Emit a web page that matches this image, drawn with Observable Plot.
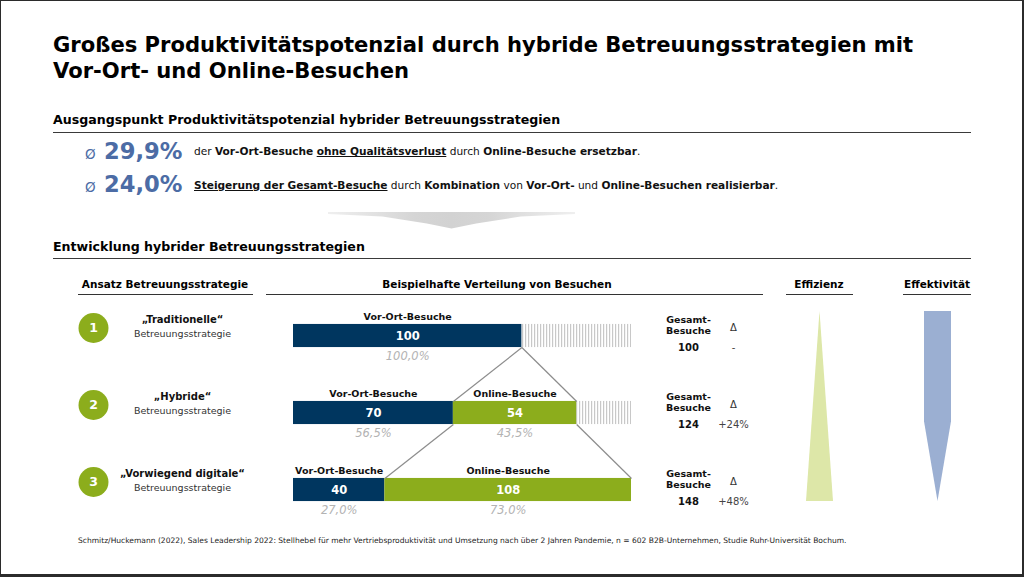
<!DOCTYPE html>
<html><head><meta charset="utf-8">
<script src="https://cdn.jsdelivr.net/npm/d3@7"></script>
<script src="https://cdn.jsdelivr.net/npm/@observablehq/plot@0.6"></script>
<style>
body{margin:0;background:#fff;}
#slide{position:relative;width:1024px;height:577px;overflow:hidden;font-family:"DejaVu Sans",Verdana,sans-serif;color:#111;background:#fff;}
.t{position:absolute;white-space:nowrap;line-height:normal;}
.rule{position:absolute;height:0;}
#frame{position:absolute;left:0;top:0;width:1024px;height:577px;box-sizing:border-box;border:solid #2b2b2b;border-width:1px 2px 3px 1px;pointer-events:none;}
.abs{position:absolute;}
</style></head><body><div id="slide"></div>
<script>
// ---------- data ----------
const titleLines = ["Großes Produktivitätspotenzial durch hybride Betreuungsstrategien mit", "Vor-Ort- und Online-Besuchen"];
const sectionTitles = ["Ausgangspunkt Produktivitätspotenzial hybrider Betreuungsstrategien", "Entwicklung hybrider Betreuungsstrategien"];
const statSymbol = "Ø";
const statValues = ["29,9%", "24,0%"];
const statTexts = [
  "der <b>Vor-Ort-Besuche</b> <b><u>ohne Qualitätsverlust</u></b> durch <b>Online-Besuche ersetzbar</b>.",
  "<b><u>Steigerung der Gesamt-Besuche</u></b> durch <b>Kombination</b> von <b>Vor-Ort-</b> und <b>Online-Besuchen realisierbar</b>."
];
const columnHeaders = ["Ansatz Betreuungsstrategie", "Beispielhafte Verteilung von Besuchen", "Effizienz", "Effektivität"];
const strategyNames = ["„Traditionelle“", "„Hybride“", "„Vorwiegend digitale“"];
const strategySub = "Betreuungsstrategie";
const segmentLabels = ["Vor-Ort-Besuche", "Online-Besuche"];
const vorOrtVisits = [100, 70, 40];
const onlineVisits = [0, 54, 108];
const vorOrtShares = ["100,0%", "56,5%", "27,0%"];
const onlineShares = ["", "43,5%", "73,0%"];
const totalVisits = [100, 124, 148];
const totalLabel = ["Gesamt-", "Besuche"];
const deltaLabels = ["-", "+24%", "+48%"];
const efficiencyShape = [{level: 0, w: 0}, {level: 1, w: 1}];
const effectivenessShape = [{level: 0, w: 1}, {level: 0.58, w: 1}, {level: 1, w: 0}];
const footnote = "Schmitz/Huckemann (2022), Sales Leadership 2022: Stellhebel für mehr Vertriebsproduktivität und Umsetzung nach über 2 Jahren Pandemie, n = 602 B2B-Unternehmen, Studie Ruhr-Universität Bochum.";

const NAVY = "#00365f", GREEN = "#8cad1c", BLUE = "#4c6ca5";

// ---------- html helpers ----------
const slide = document.getElementById("slide");
function txt(html, x, base, fs, o = {}) {
  const d = document.createElement("div");
  d.className = "t"; d.innerHTML = html;
  d.style.fontSize = fs + "px";
  d.style.top = (base - 0.928 * fs) + "px";
  d.style.left = x + "px";
  if (o.center) d.style.transform = "translateX(-50%)";
  if (o.bold) d.style.fontWeight = "bold";
  if (o.color) d.style.color = o.color;
  slide.appendChild(d); return d;
}
function rule(x1, x2, y, w = 1.5, c = "#333") {
  const d = document.createElement("div");
  d.className = "rule";
  Object.assign(d.style, {left: x1 + "px", width: (x2 - x1) + "px", top: (y - w / 2) + "px", borderTop: w + "px solid " + c});
  slide.appendChild(d);
}

// title
txt(titleLines[0], 53, 52, 21.1, {bold: true, color: "#000"});
txt(titleLines[1], 53, 77.5, 21.1, {bold: true, color: "#000"});
// section 1
txt(sectionTitles[0], 53, 124, 12.6, {bold: true, color: "#000"});
rule(53, 971, 133, 1.6, "#3a3a3a");
const statBase = [159, 192], textBase = [155, 188.5];
statValues.forEach((v, i) => {
  txt(statSymbol, 85, statBase[i] - 0.5, 13.5, {color: BLUE});
  txt(v, 104, statBase[i], 22.6, {bold: true, color: BLUE});
  txt(statTexts[i], 194, textBase[i], 10.6, {color: "#111"});
});
// chevron
const chev = document.createElement("div");
chev.className = "abs";
Object.assign(chev.style, {left: "328px", top: "212px", width: "247px", height: "16.5px",
  background: "linear-gradient(to right,#efefef,#d5d5d5 35%,#d2d2d2 50%,#d5d5d5 65%,#efefef)",
  clipPath: "polygon(0 0,100% 0,100% 12%,78% 28%,60% 69%,50% 100%,40% 69%,22% 28%,0 12%)"});
slide.appendChild(chev);
// section 2
txt(sectionTitles[1], 53, 251, 12.6, {bold: true, color: "#000"});
rule(53, 971, 259, 1.6, "#3a3a3a");
const headerCenters = [165, 497, 819, 937];
const headerRules = [[78, 253], [266, 763], [786, 853], [903, 971]];
columnHeaders.forEach((h, i) => {
  txt(h, headerCenters[i], 288, 10.5, {bold: true, center: true, color: "#000"});
  rule(headerRules[i][0], headerRules[i][1], 295, 1.4, "#333");
});
// footnote
txt(footnote, 78, 543, 7.55, {color: "#222"});

// ---------- main chart (Plot) ----------
const rows = strategyNames.map((name, i) => ({
  i, no: i + 1, name, vo: vorOrtVisits[i], on: onlineVisits[i], total: totalVisits[i],
  voShare: vorOrtShares[i], onShare: onlineShares[i], delta: deltaLabels[i]
}));
const maxT = d3.max(rows, d => d.total);
const h = 0.15;
const links = [];
for (let k = 0; k < rows.length - 1; k++) {
  const a = rows[k], b = rows[k + 1];
  links.push({x1: a.vo, x2: b.vo, y1: a.i + h, y2: b.i - h});
  links.push({x1: a.total, x2: b.total, y1: a.i + h, y2: b.i - h});
}
const withOnline = rows.filter(d => d.on > 0);
const F = "DejaVu Sans";
const chart = Plot.plot({
  width: 1024, height: 235, margin: 0,
  x: {type: "linear", domain: [0, maxT], range: [293, 631], axis: null},
  y: {type: "linear", domain: [0, rows.length - 1], range: [45.5, 199.5], axis: null},
  style: {fontFamily: F, background: "transparent", overflow: "visible"},
  marks: [
    Plot.rect(rows.filter(d => d.total < maxT), {x1: "total", x2: () => maxT, y1: d => d.i - h, y2: d => d.i + h, fill: "url(#hatch)"}),
    Plot.rect(rows, {x1: () => 0, x2: "vo", y1: d => d.i - h, y2: d => d.i + h, fill: NAVY}),
    Plot.rect(withOnline, {x1: "vo", x2: "total", y1: d => d.i - h, y2: d => d.i + h, fill: GREEN}),
    Plot.link(links, {x1: "x1", x2: "x2", y1: "y1", y2: "y2", stroke: "#8c8c8c", strokeWidth: 1.2}),
    // segment labels
    Plot.text(rows, {x: d => d.vo / 2, y: "i", text: () => segmentLabels[0], dy: -19.5, fontWeight: "bold", fontSize: 9.5, fill: "#111"}),
    Plot.text(withOnline, {x: d => d.vo + d.on / 2, y: "i", text: () => segmentLabels[1], dy: -19.5, fontWeight: "bold", fontSize: 9.5, fill: "#111"}),
    // values
    Plot.text(rows, {x: d => d.vo / 2, y: "i", text: d => String(d.vo), dy: 0.5, fontWeight: "bold", fontSize: 11.5, fill: "white"}),
    Plot.text(withOnline, {x: d => d.vo + d.on / 2, y: "i", text: d => String(d.on), dy: 0.5, fontWeight: "bold", fontSize: 11.5, fill: "white"}),
    // shares
    Plot.text(rows, {x: d => d.vo / 2, y: "i", text: "voShare", dy: 20.8, fontStyle: "italic", fontSize: 11.5, fill: "#b3b3b3"}),
    Plot.text(withOnline, {x: d => d.vo + d.on / 2, y: "i", text: "onShare", dy: 20.8, fontStyle: "italic", fontSize: 11.5, fill: "#b3b3b3"}),
    // strategy circles + names
    Plot.dot(rows, {x: () => 0, y: "i", dx: -200, dy: -8, r: 15, fill: GREEN}),
    Plot.text(rows, {x: () => 0, y: "i", dx: -200, dy: -8, text: d => String(d.no), fill: "white", fontWeight: "bold", fontSize: 12.5}),
    Plot.text(rows, {x: () => 0, y: "i", dx: -111, dy: -16.4, text: "name", fontWeight: "bold", fontSize: 10, fill: "#111"}),
    Plot.text(rows, {x: () => 0, y: "i", dx: -111, dy: -2.5, text: () => strategySub, fontSize: 9.5, fill: "#333"}),
    // totals
    Plot.text(rows, {x: () => maxT, y: "i", dx: 57, dy: -16.5, text: () => totalLabel[0], fontWeight: "bold", fontSize: 9.5, fill: "#111"}),
    Plot.text(rows, {x: () => maxT, y: "i", dx: 57, dy: -5, text: () => totalLabel[1], fontWeight: "bold", fontSize: 9.5, fill: "#111"}),
    Plot.text(rows, {x: () => maxT, y: "i", dx: 57, dy: 11.8, text: d => String(d.total), fontWeight: "bold", fontSize: 10, fill: "#111"}),
    Plot.text(rows, {x: () => maxT, y: "i", dx: 102, dy: -8, text: () => "Δ", fontSize: 10, fill: "#333"}),
    Plot.text(rows, {x: () => maxT, y: "i", dx: 102, dy: 11.8, text: "delta", fontSize: 10, fill: "#444"})
  ]
});
const defs = d3.select(chart).insert("defs", ":first-child");
const pat = defs.append("pattern").attr("id", "hatch").attr("patternUnits", "userSpaceOnUse").attr("width", 3).attr("height", 10);
pat.append("rect").attr("width", 3).attr("height", 10).attr("fill", "#ffffff");
pat.append("rect").attr("width", 1.2).attr("height", 10).attr("fill", "#c8c8c8");
chart.style.position = "absolute"; chart.style.left = "0px"; chart.style.top = "290px";
slide.appendChild(chart);

// ---------- efficiency / effectiveness indicators ----------
function indicator(shape, color, left) {
  const p = Plot.plot({
    width: 27, height: 190, margin: 0,
    x: {domain: [-1, 1], axis: null}, y: {domain: [0, 1], range: [0, 190], axis: null},
    style: {background: "transparent", overflow: "visible"},
    marks: [Plot.areaX(shape, {y: "level", x1: d => -d.w, x2: d => d.w, fill: color})]
  });
  p.style.position = "absolute"; p.style.left = left + "px"; p.style.top = "311px";
  slide.appendChild(p);
}
indicator(efficiencyShape, "#dde7a8", 806);
indicator(effectivenessShape, "#9bafd2", 924);

const fr = document.createElement("div"); fr.id = "frame"; slide.appendChild(fr);
</script></body></html>
